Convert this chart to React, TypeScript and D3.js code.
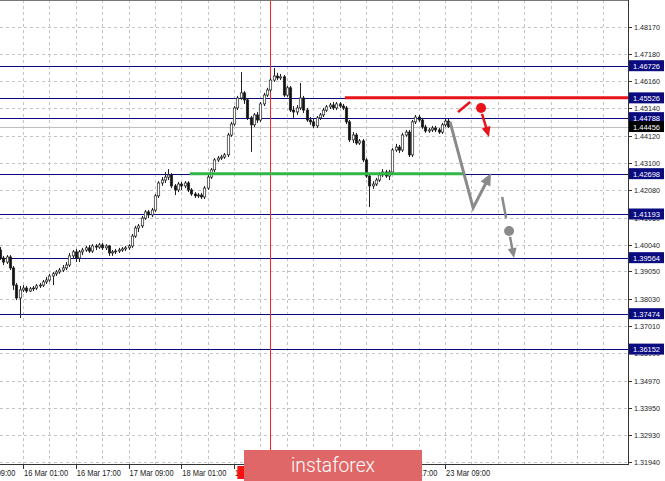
import React from 'react';
import * as d3 from 'd3';

// ---- DATA (H1 candles, bar 0 = 15 Mar 18:00) ----
const opens = [1.3985,1.3955,1.3940,1.3959,1.3918,1.3854,1.3806,1.3836,1.3843,1.3832,1.3840,1.3843,1.3851,1.3854,1.3866,1.3873,1.3888,1.3896,1.3903,1.3910,1.3918,1.3929,1.3963,1.3978,1.3955,1.3978,1.3985,1.3993,1.3981,1.4000,1.3996,1.4004,1.3993,1.4000,1.3974,1.3978,1.3981,1.3985,1.3989,1.3993,1.4000,1.4037,1.4067,1.4075,1.4104,1.4127,1.4116,1.4134,1.4187,1.4235,1.4246,1.4257,1.4265,1.4224,1.4209,1.4231,1.4224,1.4235,1.4209,1.4194,1.4187,1.4190,1.4183,1.4216,1.4257,1.4284,1.4321,1.4328,1.4332,1.4340,1.4414,1.4455,1.4515,1.4552,1.4571,1.4545,1.4478,1.4452,1.4489,1.4470,1.4530,1.4563,1.4582,1.4619,1.4634,1.4627,1.4631,1.4563,1.4590,1.4507,1.4500,1.4515,1.4552,1.4507,1.4470,1.4463,1.4448,1.4478,1.4489,1.4507,1.4519,1.4526,1.4515,1.4530,1.4522,1.4515,1.4463,1.4396,1.4414,1.4384,1.4392,1.4321,1.4261,1.4224,1.4231,1.4246,1.4265,1.4276,1.4261,1.4276,1.4358,1.4369,1.4358,1.4414,1.4425,1.4340,1.4463,1.4481,1.4470,1.4444,1.4429,1.4433,1.4440,1.4433,1.4425,1.4452,1.4466];
const highs = [1.3996,1.3963,1.3966,1.3966,1.3925,1.3862,1.3851,1.3854,1.3851,1.3847,1.3851,1.3858,1.3862,1.3873,1.3884,1.3896,1.3903,1.3910,1.3918,1.3929,1.3940,1.3974,1.3985,1.3989,1.3985,1.3993,1.4000,1.4004,1.4007,1.4007,1.4011,1.4011,1.4007,1.4004,1.3985,1.3989,1.3993,1.3996,1.4000,1.4007,1.4045,1.4075,1.4082,1.4112,1.4134,1.4134,1.4142,1.4194,1.4242,1.4257,1.4276,1.4287,1.4272,1.4231,1.4239,1.4239,1.4242,1.4242,1.4216,1.4201,1.4198,1.4198,1.4224,1.4265,1.4291,1.4328,1.4336,1.4340,1.4347,1.4422,1.4463,1.4522,1.4560,1.4649,1.4578,1.4552,1.4485,1.4496,1.4500,1.4537,1.4571,1.4590,1.4627,1.4664,1.4646,1.4642,1.4638,1.4597,1.4597,1.4522,1.4526,1.4608,1.4560,1.4515,1.4481,1.4474,1.4485,1.4496,1.4515,1.4526,1.4534,1.4537,1.4537,1.4537,1.4530,1.4522,1.4470,1.4425,1.4422,1.4399,1.4399,1.4328,1.4269,1.4242,1.4254,1.4276,1.4287,1.4284,1.4284,1.4366,1.4381,1.4377,1.4422,1.4433,1.4433,1.4470,1.4489,1.4489,1.4478,1.4452,1.4440,1.4448,1.4448,1.4440,1.4459,1.4474,1.4474];
const lows = [1.3948,1.3929,1.3933,1.3910,1.3836,1.3798,1.3731,1.3828,1.3825,1.3828,1.3832,1.3836,1.3843,1.3847,1.3858,1.3866,1.3854,1.3888,1.3896,1.3903,1.3910,1.3922,1.3955,1.3940,1.3940,1.3966,1.3978,1.3974,1.3974,1.3985,1.3989,1.3985,1.3985,1.3963,1.3963,1.3970,1.3974,1.3978,1.3981,1.3985,1.3993,1.4030,1.4052,1.4067,1.4097,1.4104,1.4108,1.4127,1.4179,1.4224,1.4235,1.4246,1.4216,1.4190,1.4201,1.4209,1.4216,1.4201,1.4187,1.4179,1.4179,1.4175,1.4175,1.4209,1.4250,1.4276,1.4313,1.4321,1.4325,1.4332,1.4407,1.4448,1.4507,1.4545,1.4530,1.4470,1.4351,1.4444,1.4459,1.4463,1.4522,1.4556,1.4575,1.4612,1.4619,1.4619,1.4556,1.4556,1.4500,1.4478,1.4489,1.4507,1.4496,1.4463,1.4452,1.4440,1.4440,1.4470,1.4481,1.4500,1.4511,1.4507,1.4507,1.4515,1.4507,1.4455,1.4388,1.4384,1.4377,1.4377,1.4313,1.4254,1.4145,1.4213,1.4224,1.4239,1.4257,1.4254,1.4246,1.4269,1.4351,1.4347,1.4351,1.4407,1.4332,1.4332,1.4455,1.4463,1.4437,1.4422,1.4422,1.4425,1.4425,1.4418,1.4418,1.4444,1.4440];
const closes = [1.3955,1.3940,1.3959,1.3918,1.3854,1.3806,1.3836,1.3843,1.3832,1.3840,1.3843,1.3851,1.3854,1.3866,1.3873,1.3888,1.3896,1.3903,1.3910,1.3918,1.3929,1.3963,1.3978,1.3955,1.3978,1.3985,1.3993,1.3981,1.4000,1.3996,1.4004,1.3993,1.4000,1.3974,1.3978,1.3981,1.3985,1.3989,1.3993,1.4000,1.4037,1.4067,1.4075,1.4104,1.4127,1.4116,1.4134,1.4187,1.4235,1.4246,1.4257,1.4265,1.4224,1.4209,1.4231,1.4224,1.4235,1.4209,1.4194,1.4187,1.4190,1.4183,1.4216,1.4257,1.4284,1.4321,1.4328,1.4332,1.4340,1.4414,1.4455,1.4515,1.4552,1.4571,1.4545,1.4478,1.4452,1.4489,1.4470,1.4530,1.4563,1.4582,1.4619,1.4634,1.4627,1.4631,1.4563,1.4590,1.4507,1.4500,1.4515,1.4552,1.4507,1.4470,1.4463,1.4448,1.4478,1.4489,1.4507,1.4519,1.4526,1.4515,1.4530,1.4522,1.4515,1.4463,1.4396,1.4414,1.4384,1.4392,1.4321,1.4261,1.4224,1.4231,1.4246,1.4265,1.4276,1.4261,1.4276,1.4358,1.4369,1.4358,1.4414,1.4425,1.4340,1.4463,1.4481,1.4470,1.4444,1.4429,1.4433,1.4440,1.4433,1.4425,1.4452,1.4466,1.44456];

const priceTicks = [1.4817,1.4718,1.4616,1.4514,1.4412,1.4310,1.4208,1.4106,1.4004,1.3905,1.3803,1.3701,1.3599,1.3497,1.3395,1.3293,1.3194];
const priceTickLabels = ['1.48170','1.47180','1.46160','1.45140','1.44120','1.43100','1.42080','1.41060','1.40040','1.39050','1.38030','1.37010','1.35990','1.34970','1.33950','1.32930','1.31940'];

const timeTickBars = [-9,7,23,39,55,71,87,103,119,135];
const timeLabelBars = [-9,7,23,39,55,71,119,135];
const timeTickLabels = ['15 Mar 09:00','16 Mar 01:00','16 Mar 17:00','17 Mar 09:00','18 Mar 01:00','18 Mar 17:00','22 Mar 17:00','23 Mar 09:00'];

const levelPrices = [1.46726,1.45526,1.44788,1.42698,1.41193,1.39564,1.37474,1.36152];
const levelLabels = ['1.46726','1.45526','1.44788','1.42698','1.41193','1.39564','1.37474','1.36152'];
const currentPrice = 1.44456;
const currentLabel = '1.44456';
const markerBar = 82;

// annotations: [bar, price]
const resistance = { from: 104.6, price: 1.45526 };
const support = { from: 57.6, to: 140.4, price: 1.42698 };
const redStroke: [number, number][] = [[138.9, 1.4500], [142.6, 1.4537]];
const redDot: [number, number] = [145.9, 1.4515];
const redArrow: [number, number][] = [[146.2, 1.4493], [148.3, 1.4407]];
const grayPath: [number, number][] = [[136.5, 1.4463], [143.5, 1.4142], [148.9, 1.4271]];
const grayStroke: [number, number][] = [[152.3, 1.4183], [153.5, 1.4104]];
const grayDot: [number, number] = [154.4, 1.4056];
const grayArrow: [number, number][] = [[154.7, 1.4034], [155.9, 1.3955]];

const W = 665, H = 481;
const plotR = 628, plotB = 464;

function arrowHead(p0: [number, number], p1: [number, number], len: number, wid: number) {
  const dx = p1[0] - p0[0], dy = p1[1] - p0[1];
  const L = Math.hypot(dx, dy);
  const ux = dx / L, uy = dy / L;
  const bx = p1[0] - ux * len, by = p1[1] - uy * len;
  const px = -uy * wid / 2, py = ux * wid / 2;
  return `M${p1[0]},${p1[1]} L${bx + px},${by + py} L${bx - px},${by - py} Z`;
}

export default function App() {
  const x = d3.scaleLinear().domain([0, 190.47]).range([0, plotR]);
  const y = d3.scaleLinear().domain([1.3194, 1.4817]).range([462, 27]);
  const line = d3.line<[number, number]>().x(d => x(d[0])).y(d => y(d[1]));
  const pt = (d: [number, number]): [number, number] => [x(d[0]), y(d[1])];
  const vGrid = d3.range(-1, 192, 8).filter(i => x(i) > 0 && x(i) < plotR);
  const font = '"Liberation Sans", Arial, sans-serif';
  const navy = '#0b0b80';

  const ga = grayArrow.map(pt) as [number, number][];
  const gp = grayPath.map(pt) as [number, number][];
  const ra = redArrow.map(pt) as [number, number][];
  const gaShaft: [number, number][] = [ga[0], [ga[1][0] - (ga[1][0]-ga[0][0])*0.35, ga[1][1] - (ga[1][1]-ga[0][1])*0.35]];
  const raShaft: [number, number][] = [ra[0], [ra[1][0] - (ra[1][0]-ra[0][0])*0.35, ra[1][1] - (ra[1][1]-ra[0][1])*0.35]];
  const gpEnd = gp[2];
  const gpPrev = gp[1];
  const gpShaftEnd: [number, number] = [gpEnd[0] - (gpEnd[0]-gpPrev[0])*0.2, gpEnd[1] - (gpEnd[1]-gpPrev[1])*0.2];

  return (
    <svg width={W} height={H} style={{ position: 'absolute', left: 0, top: 0, background: '#fff' }}>
      <rect x={0} y={0} width={W} height={H} fill="#fff" />
      {/* grid */}
      {priceTicks.map((t, i) => (
        <line key={'hg' + i} x1={0} x2={plotR} y1={Math.round(y(t)) + 0.5} y2={Math.round(y(t)) + 0.5} stroke="#c4c4c4" strokeDasharray="3,3" />
      ))}
      {vGrid.map(i => (
        <line key={'vg' + i} x1={Math.round(x(i)) + 0.5} x2={Math.round(x(i)) + 0.5} y1={0} y2={plotB} stroke="#c4c4c4" strokeDasharray="3,3" />
      ))}
      {/* level lines */}
      {levelPrices.map((p, i) => (
        <line key={'lv' + i} x1={0} x2={plotR} y1={Math.round(y(p)) + 0.5} y2={Math.round(y(p)) + 0.5} stroke={navy} strokeWidth={1} />
      ))}
      <line x1={0} x2={plotR} y1={Math.round(y(currentPrice)) + 0.5} y2={Math.round(y(currentPrice)) + 0.5} stroke="#c0c0c0" />
      {/* marker vertical */}
      <line x1={Math.round(x(markerBar)) + 0.5} x2={Math.round(x(markerBar)) + 0.5} y1={0} y2={plotB} stroke="#ff2020" />
      {/* candles */}
      {closes.map((c, i) => {
        const o = opens[i];
        const cx = Math.round(x(i)) + 0.5;
        const top = y(Math.max(o, c)), bot = y(Math.min(o, c));
        const bull = c >= o;
        return (
          <g key={'c' + i}>
            <line x1={cx} x2={cx} y1={y(highs[i])} y2={y(lows[i])} stroke="#222" strokeWidth={1} />
            <rect x={cx - 1.2} y={top} width={2.4} height={Math.max(0.8, bot - top)} fill={bull ? '#fff' : '#111'} stroke="#222" strokeWidth={0.7} />
          </g>
        );
      })}
      {/* support / resistance */}
      <line x1={x(resistance.from)} x2={plotR} y1={y(resistance.price)} y2={y(resistance.price)} stroke="#e8131b" strokeWidth={3} />
      <line x1={x(support.from)} x2={x(support.to)} y1={y(support.price)} y2={y(support.price)} stroke="#33b54a" strokeWidth={3} />
      {/* red scenario */}
      <path d={line(redStroke) || ''} stroke="#e8131b" strokeWidth={2.5} fill="none" />
      <circle cx={x(redDot[0])} cy={y(redDot[1])} r={5} fill="#e8131b" />
      <path d={d3.line()(raShaft) || ''} stroke="#e8131b" strokeWidth={2.5} fill="none" />
      <path d={arrowHead(ra[0], ra[1], 10, 9)} fill="#e8131b" />
      {/* gray scenario */}
      <path d={d3.line()([gp[0], gp[1], gpShaftEnd]) || ''} stroke="#8a8a8a" strokeWidth={3} fill="none" strokeLinejoin="miter" />
      <path d={arrowHead(gpPrev, gpEnd, 12, 11)} fill="#8a8a8a" />
      <path d={line(grayStroke) || ''} stroke="#8a8a8a" strokeWidth={2.5} fill="none" />
      <circle cx={x(grayDot[0])} cy={y(grayDot[1])} r={5} fill="#8a8a8a" />
      <path d={d3.line()(gaShaft) || ''} stroke="#8a8a8a" strokeWidth={2.5} fill="none" />
      <path d={arrowHead(ga[0], ga[1], 10, 9)} fill="#8a8a8a" />
      {/* axes */}
      <rect x={plotR} y={0} width={W - plotR} height={H} fill="#fff" />
      <rect x={0} y={plotB} width={plotR} height={H - plotB} fill="#fff" />
      <line x1={0} x2={plotR} y1={0.5} y2={0.5} stroke="#777" />
      <line x1={plotR + 0.5} x2={plotR + 0.5} y1={0} y2={plotB + 1} stroke="#333" />
      <line x1={0} x2={plotR + 1} y1={plotB + 0.5} y2={plotB + 0.5} stroke="#333" />
      {priceTicks.map((t, i) => (
        <g key={'pt' + i}>
          <line x1={plotR} x2={plotR + 4} y1={Math.round(y(t)) + 0.5} y2={Math.round(y(t)) + 0.5} stroke="#333" />
          <text x={634} y={y(t) + 3} fontSize={8} fontFamily={font} fill="#222" textLength={26} lengthAdjust="spacingAndGlyphs">{priceTickLabels[i]}</text>
        </g>
      ))}
      {timeTickBars.map((b, i) => (
        <line key={'tk' + i} x1={Math.round(x(b)) + 0.5} x2={Math.round(x(b)) + 0.5} y1={plotB} y2={plotB + 5} stroke="#333" />
      ))}
      {timeLabelBars.map((b, i) => (
        <text key={'tt' + i} x={x(b) + 1} y={476} fontSize={8.5} fontFamily={font} fill="#222" textLength={44} lengthAdjust="spacingAndGlyphs">{timeTickLabels[i]}</text>
      ))}
      {/* level labels */}
      {levelPrices.map((p, i) => (
        <g key={'ll' + i}>
          <rect x={plotR + 1} y={y(p) - 5.5} width={35} height={11} fill={navy} />
          <text x={633} y={y(p) + 3} fontSize={8} fontFamily={font} fill="#fff" textLength={27} lengthAdjust="spacingAndGlyphs">{levelLabels[i]}</text>
        </g>
      ))}
      <rect x={plotR + 1} y={y(currentPrice) - 5.5} width={35} height={11} fill="#000" />
      <text x={633} y={y(currentPrice) + 3} fontSize={8} fontFamily={font} fill="#fff" textLength={27} lengthAdjust="spacingAndGlyphs">{currentLabel}</text>
      {/* marker time label */}
      <rect x={x(markerBar) - 33} y={466} width={66} height={13} fill="#ff1010" />
      {/* watermark */}
      <rect x={244} y={450} width={178} height={31} fill="#e06767" />
      <text x={333} y={472} textAnchor="middle" fontSize={21} fontFamily="Roboto, 'Open Sans', sans-serif" fontWeight={300} fill="#fff" textLength={84} lengthAdjust="spacingAndGlyphs">instaforex</text>
    </svg>
  );
}
